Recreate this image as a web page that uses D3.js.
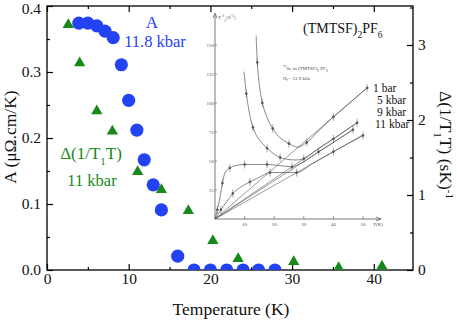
<!DOCTYPE html>
<html>
<head>
<meta charset="utf-8">
<script src="https://cdn.jsdelivr.net/npm/d3@7"></script>
<style>
body { margin: 0; background: #fff; }
svg text { font-family: "Liberation Serif", "Times New Roman", serif; }
</style>
</head>
<body>
<div class="canva"></div>
<script>
// main data: A (11.8 kbar) and delta(1/T1T) (11 kbar)
const tempA = [3.9, 5.0, 6.1, 7.1, 8.1, 9.1, 10.0, 11.0, 11.9, 13.0, 14.0, 16.0, 18.0, 20.0, 22.0, 24.0, 25.9, 27.9];
const valA = [0.374, 0.374, 0.370, 0.362, 0.352, 0.311, 0.257, 0.212, 0.167, 0.129, 0.091, 0.021, 0, 0, 0, 0, 0, 0];
const tempD = [2.6, 4.0, 6.1, 8.0, 11.1, 14.0, 17.3, 20.3, 23.4, 30.2, 35.7, 41.0];
const valD = [3.27, 2.76, 2.12, 1.85, 1.31, 1.07, 0.79, 0.39, 0.15, 0.11, 0.03, 0.05];
const xTicks = [0, 10, 20, 30, 40];
const leftTicks = [0, 0.1, 0.2, 0.3, 0.4];
const rightTicks = [0, 1, 2, 3];

// inset (1/T1 vs T at several pressures)
const insetNames = ["1 bar", "5 kbar", "9 kbar", "11 kbar"];
const inset1bar = [[13.9,158],[14.3,135],[15,115],[16,100],[17.5,88],[19.5,78],[22,70],[25,65],[28,62],[31,66],[35,76],[40,88],[45,99],[51.4,113]];
const inset5kbar = [[9.8,127],[10.6,108],[11.5,93],[12.8,79],[14.5,70],[17.6,61],[20,56],[22,53],[26,51],[30,52],[35,61],[40,69],[44,76],[48,83]];
const inset9kbar = [[0,0],[0.8,8],[1.7,19],[2.5,31],[3.4,40],[5,44],[6.8,46],[10,47],[14,47],[17.6,47],[22,46],[26,45],[29,48],[35,58],[40,66],[46.6,77]];
const inset11kbar = [[0,0],[2,8],[4,15],[6,22],[9,28],[11.8,32],[15,36],[18.6,40],[22,40],[27.6,40],[33,48],[40,58],[45,65],[50,72]];
const insetSlopes = [2.2, 1.73, 1.65, 1.45];
const insetEnd = [51.4, 48, 46.6, 50];
const insetXTicks = [10, 20, 30, 40, 50];
const insetYTicks = [25, 50, 75, 100, 125, 150];

const W = 457, H = 320;
const blue = "#2342f2", green = "#17891a";

const svg = d3.select(".canva").append("svg")
  .attr("width", W)
  .attr("height", H);

const x = d3.scaleLinear().domain([0, 44.8]).range([47, 413]);
const yL = d3.scaleLinear().domain([0, 0.4]).range([270, 6]);
const yR = d3.scaleLinear().domain([0, 3.52]).range([270, 6]);

// ---- inset ----
const ix = d3.scaleLinear().domain([0, 50]).range([215, 363]);
const iy = d3.scaleLinear().domain([0, 150]).range([219, 45]);
const inset = svg.append("g").attr("stroke", "#555").attr("fill", "none");

inset.append("line").attr("x1", ix(0)).attr("x2", ix(0)).attr("y1", 219).attr("y2", 15).attr("stroke-width", 0.8);
inset.append("line").attr("x1", ix(0)).attr("x2", 381).attr("y1", 219).attr("y2", 219).attr("stroke-width", 0.8);
inset.append("path").attr("d", "M213,18 L215,13 L217,18").attr("stroke-width", 0.7);
inset.append("path").attr("d", "M376,217 L381,219 L376,221").attr("stroke-width", 0.7);

insetYTicks.forEach(v => {
  inset.append("line").attr("x1", ix(0)).attr("x2", ix(0) + 2).attr("y1", iy(v)).attr("y2", iy(v)).attr("stroke-width", 0.6);
  svg.append("text").text(v).attr("x", ix(0) - 1).attr("y", iy(v) + 2)
    .attr("text-anchor", "end").attr("font-size", 5).attr("fill", "#555");
});
insetXTicks.forEach(v => {
  inset.append("line").attr("x1", ix(v)).attr("x2", ix(v)).attr("y1", 219).attr("y2", 216).attr("stroke-width", 0.6);
  svg.append("text").text(v).attr("x", ix(v)).attr("y", 226)
    .attr("text-anchor", "middle").attr("font-size", 5).attr("fill", "#555");
});
svg.append("text").text("T(K)").attr("x", 373).attr("y", 226).attr("font-size", 5).attr("fill", "#555");
svg.append("text").attr("x", 218).attr("y", 19).attr("font-size", 5).attr("fill", "#555")
  .html('T<tspan baseline-shift="super" font-size="4">-1</tspan><tspan baseline-shift="sub" font-size="4">1</tspan>(S<tspan baseline-shift="super" font-size="4">-1</tspan>)');
svg.append("text").attr("x", 283).attr("y", 70).attr("font-size", 5).attr("fill", "#444")
  .html('<tspan baseline-shift="super" font-size="3.5">77</tspan>Se  in (TMTSF)<tspan baseline-shift="sub" font-size="3.5">2</tspan> PF<tspan baseline-shift="sub" font-size="3.5">6</tspan>');
svg.append("text").text("H\u2080= 31.9 kOe").attr("x", 283).attr("y", 80).attr("font-size", 5).attr("fill", "#444");

const iline = d3.line().x(d => ix(d[0])).y(d => iy(d[1])).curve(d3.curveMonotoneX);
const iline2 = d3.line().x(d => ix(d[0])).y(d => iy(d[1])).curve(d3.curveCatmullRom);
[inset1bar, inset5kbar, inset9kbar, inset11kbar].forEach((pts, i) => {
  inset.append("path").attr("d", i < 2 ? iline2(pts) : iline(pts)).attr("stroke-width", 0.7);
  pts.slice(1).forEach((p, j) => {
    if (j % 2 === 0) {
      inset.append("circle").attr("cx", ix(p[0])).attr("cy", iy(p[1])).attr("r", 0.9).attr("fill", "#555");
      inset.append("line").attr("x1", ix(p[0])).attr("x2", ix(p[0]))
        .attr("y1", iy(p[1]) - 4).attr("y2", iy(p[1]) + 4).attr("stroke-width", 0.5);
    }
  });
});
insetSlopes.forEach((s, i) => {
  inset.append("line").attr("x1", ix(0)).attr("y1", iy(0))
    .attr("x2", ix(insetEnd[i])).attr("y2", iy(s * insetEnd[i])).attr("stroke-width", 0.6);
});
const insetLabY = [92, 104, 116, 128];
const insetLabX = [373, 377, 377, 375];
insetNames.forEach((n, i) => {
  svg.append("text").text(n).attr("x", insetLabX[i]).attr("y", insetLabY[i])
    .attr("font-size", 11.5).attr("fill", "#111");
});

svg.append("text").attr("x", 303).attr("y", 33).attr("font-size", 14).attr("fill", "#111")
  .html('(TMTSF)<tspan baseline-shift="sub" font-size="9.5">2</tspan>PF<tspan baseline-shift="sub" font-size="9.5">6</tspan>');

// ---- frame and axes ----
svg.append("rect").attr("x", 47).attr("y", 6).attr("width", 366).attr("height", 264)
  .attr("fill", "none").attr("stroke", "#000").attr("stroke-width", 1.3);

const axisBot = svg.append("g").attr("transform", "translate(0,270)")
  .call(d3.axisBottom(x).tickValues(xTicks).tickSize(-6).tickPadding(3).tickFormat(d3.format("d")));
const axisBotMinor = svg.append("g").attr("transform", "translate(0,270)")
  .call(d3.axisBottom(x).tickValues([5, 15, 25, 35]).tickSize(-3).tickFormat(""));
const axisTop = svg.append("g").attr("transform", "translate(0,6)")
  .call(d3.axisTop(x).tickValues(xTicks).tickSize(-6).tickFormat(""));
const axisTopMinor = svg.append("g").attr("transform", "translate(0,6)")
  .call(d3.axisTop(x).tickValues([5, 15, 25, 35]).tickSize(-3).tickFormat(""));
const axisLeft = svg.append("g").attr("transform", "translate(47,0)")
  .call(d3.axisLeft(yL).tickValues(leftTicks).tickSize(-6).tickPadding(6).tickFormat(d3.format(".1f")));
const axisLeftMinor = svg.append("g").attr("transform", "translate(47,0)")
  .call(d3.axisLeft(yL).tickValues([0.05, 0.15, 0.25, 0.35]).tickSize(-3).tickFormat(""));
const axisRight = svg.append("g").attr("transform", "translate(413,0)")
  .call(d3.axisRight(yR).tickValues(rightTicks).tickSize(-6).tickPadding(5).tickFormat(d3.format("d")));
const axisRightMinor = svg.append("g").attr("transform", "translate(413,0)")
  .call(d3.axisRight(yR).tickValues([0.5, 1.5, 2.5, 3.5]).tickSize(-3).tickFormat(""));

svg.selectAll(".domain").remove();
svg.selectAll(".tick line").attr("stroke", "#000").attr("stroke-width", 1.2);
svg.selectAll(".tick text").attr("font-size", 15.5).attr("fill", "#111");
// keep the top label inside the picture
axisLeft.selectAll(".tick text").filter(d => d === 0.4).attr("dy", "0.5em");

// ---- marks ----
const plot = svg.append("g").attr("clip-path", "url(#clip)");
svg.append("clipPath").attr("id", "clip").append("rect")
  .attr("x", 47).attr("y", 6).attr("width", 366).attr("height", 264);

plot.selectAll("path.tri").data(tempD).enter().append("path")
  .attr("class", "tri")
  .attr("d", d3.symbol().type(d3.symbolTriangle).size(55))
  .attr("transform", (d, i) => `translate(${x(d)},${yR(valD[i])})`)
  .attr("fill", green);

plot.selectAll("circle").data(tempA).enter().append("circle")
  .attr("cx", d => x(d))
  .attr("cy", (d, i) => yL(valA[i]))
  .attr("r", 6.6)
  .attr("fill", blue);

// ---- labels ----
svg.append("text").text("A").attr("x", 152).attr("y", 28).attr("text-anchor", "middle")
  .attr("font-size", 17).attr("fill", blue);
svg.append("text").text("11.8 kbar").attr("x", 155).attr("y", 47).attr("text-anchor", "middle")
  .attr("font-size", 16.5).attr("fill", blue);
svg.append("text").attr("x", 91).attr("y", 159).attr("text-anchor", "middle")
  .attr("font-size", 17).attr("fill", green)
  .html('\u0394(1/T<tspan baseline-shift="sub" font-size="11">1</tspan>T)');
svg.append("text").text("11 kbar").attr("x", 92).attr("y", 186).attr("text-anchor", "middle")
  .attr("font-size", 16.5).attr("fill", green);

svg.append("text").text("Temperature (K)").attr("x", 231).attr("y", 315).attr("text-anchor", "middle")
  .attr("font-size", 17.5).attr("fill", "#111");
svg.append("text").attr("transform", "translate(16,137) rotate(-90)").attr("text-anchor", "middle")
  .attr("font-size", 17.5).attr("fill", "#111")
  .text("A (\u03bc\u03a9.cm/K)");
svg.append("text").attr("transform", "translate(440,145) rotate(90)").attr("text-anchor", "middle")
  .attr("font-size", 17.5).attr("fill", "#111")
  .html('\u0394(1/T<tspan baseline-shift="sub" font-size="11">1</tspan>T) (sK)<tspan baseline-shift="super" font-size="11">-1</tspan>');
</script>
</body>
</html>
